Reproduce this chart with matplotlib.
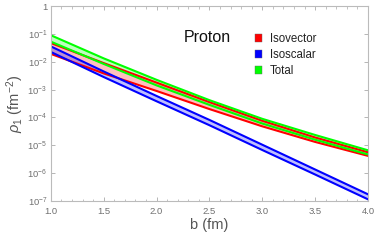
import matplotlib
matplotlib.use("Agg")
import matplotlib.pyplot as plt
from matplotlib.patches import Patch
import numpy as np

plt.rcParams['font.family'] = ['Liberation Sans', 'DejaVu Sans']
plt.rcParams['mathtext.fontset'] = 'custom'
plt.rcParams['mathtext.rm'] = 'Liberation Sans'
plt.rcParams['mathtext.it'] = 'Liberation Sans:italic'

# impact parameter b (fm)
b = [1.0, 1.5, 2.0, 2.5, 3.0, 3.5, 4.0]
# log10 of rho_1 band edges (fm^-2)
iv_upper = [-1.33, -2.05, -2.75, -3.45, -4.12, -4.72, -5.25]
iv_lower = [-1.72, -2.42, -3.05, -3.70, -4.32, -4.88, -5.38]
is_upper = [-1.45, -2.35, -3.23, -4.09, -4.98, -5.87, -6.76]
is_lower = [-1.65, -2.55, -3.42, -4.28, -5.17, -6.05, -6.94]
tot_upper = [-1.05, -1.88, -2.65, -3.38, -4.05, -4.63, -5.18]
tot_lower = [-1.28, -2.08, -2.85, -3.55, -4.22, -4.80, -5.33]

labels = ["Isovector", "Isoscalar", "Total"]
colors = ["#ff0000", "#0000ff", "#00ff00"]

fig = plt.figure(figsize=(3.74, 2.40), dpi=100)
ax = fig.add_axes([0.136, 0.1625, 0.848, 0.8125])

bands = [(iv_upper, iv_lower), (is_upper, is_lower), (tot_upper, tot_lower)]
for (up, lo), c in zip(bands, colors):
    upv = 10.0 ** np.array(up)
    lov = 10.0 ** np.array(lo)
    ax.fill_between(b, lov, upv, color=c, alpha=0.25, lw=0)
    ax.plot(b, upv, color=c, lw=1.5)
    ax.plot(b, lov, color=c, lw=1.5)

ax.set_yscale('log')
ax.set_xlim(1.0, 4.0)
ax.set_ylim(1e-7, 1)
ax.set_xticks([1.0, 1.5, 2.0, 2.5, 3.0, 3.5, 4.0])
ax.set_xticklabels(["1.0", "1.5", "2.0", "2.5", "3.0", "3.5", "4.0"])
ax.set_xticks(np.arange(1.0, 4.01, 0.1), minor=True)
yt = [1e-7, 1e-6, 1e-5, 1e-4, 1e-3, 1e-2, 1e-1, 1]
ax.set_yticks(yt)
ax.set_yticklabels([r"$10^{-7}$", r"$10^{-6}$", r"$10^{-5}$", r"$10^{-4}$",
                    r"$10^{-3}$", r"$10^{-2}$", r"$10^{-1}$", "1"])
ax.yaxis.set_minor_locator(matplotlib.ticker.NullLocator())

for s in ax.spines.values():
    s.set_color("#bbbbbb")
    s.set_linewidth(0.8)
ax.tick_params(which='both', direction='in', top=True, right=True,
               colors="#aaaaaa", labelcolor="#707070", labelsize=6.8)
ax.tick_params(axis='x', pad=4.5)
ax.tick_params(axis='y', pad=2.5)
ax.tick_params(which='major', length=3, width=0.6)
ax.tick_params(which='minor', length=1.8, width=0.5)

ax.set_xlabel("b (fm)", fontsize=10.5, color="#555555", labelpad=1)
ax.set_ylabel(r"$\rho_1$ (fm$^{-2}$)", fontsize=10.5, color="#555555", labelpad=1)

ax.text(0.42, 0.84, "Proton", transform=ax.transAxes, fontsize=11.5,
        ha='left', va='center', color="#111111")

handles = [Patch(facecolor=c, edgecolor="#666666", lw=0.3) for c in colors]
ax.legend(handles, labels, loc='upper left', bbox_to_anchor=(0.625, 0.89),
          frameon=False, fontsize=8.3, handlelength=0.6, handleheight=0.75,
          handletextpad=0.7, labelspacing=0.35, borderpad=0,
          labelcolor="#222222")

fig.savefig("out.png", dpi=100)
